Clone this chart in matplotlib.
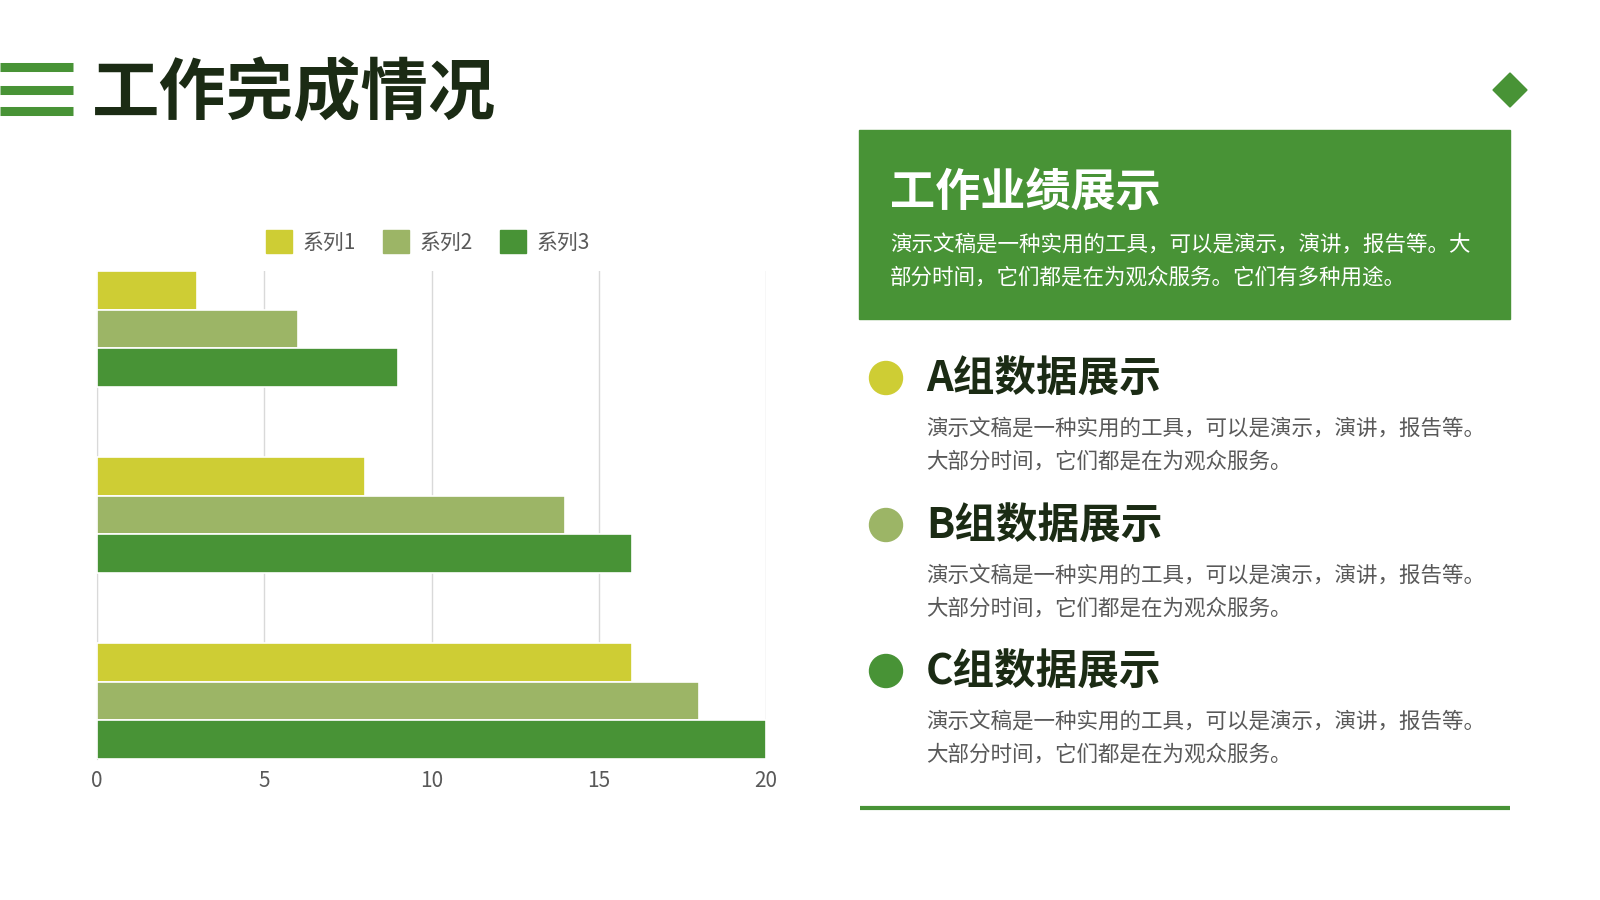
import matplotlib
matplotlib.use("Agg")
import matplotlib.pyplot as plt
import matplotlib.patches as mpatches
from matplotlib.lines import Line2D

plt.rcParams['font.family'] = ['Noto Sans CJK SC', 'DejaVu Sans']

# chart data
categories = ["类别1", "类别2", "类别3"]
series_names = ["系列1", "系列2", "系列3"]
series1 = [3, 8, 16]
series2 = [6, 14, 18]
series3 = [9, 16, 20]
x_ticks = [0, 5, 10, 15, 20]

# text content
page_title = "工作完成情况"
box_title = "工作业绩展示"
box_body = ["演示文稿是一种实用的工具，可以是演示，演讲，报告等。大",
            "部分时间，它们都是在为观众服务。它们有多种用途。"]
group_titles = ["A组数据展示", "B组数据展示", "C组数据展示"]
group_body = ["演示文稿是一种实用的工具，可以是演示，演讲，报告等。",
              "大部分时间，它们都是在为观众服务。"]

colors = ['#CECD34', '#9CB566', '#489336']
dark = '#1B2B14'
grey = '#595959'

W, H = 1600, 900
fig = plt.figure(figsize=(16, 9), dpi=100)


def fx(px):
    return px / W


def fy(py):
    return 1 - py / H


# header: three bars + title
for yy in [67, 90, 111]:
    fig.add_artist(Line2D([0, fx(73)], [fy(yy), fy(yy)], color='#489336', lw=6.5,
                          solid_capstyle='butt'))
fig.text(fx(92), fy(95), page_title, fontsize=48.5, fontweight='heavy', color=dark,
         ha='left', va='center')

# diamond at top right
diamond = mpatches.Polygon([(fx(1493), fy(90)), (fx(1510), fy(73)), (fx(1527), fy(90)),
                            (fx(1510), fy(107))], closed=True, color='#489336',
                           transform=fig.transFigure)
fig.add_artist(diamond)

# green box
fig.add_artist(mpatches.Rectangle((fx(859), fy(319)), fx(1510 - 859), (319 - 130) / H,
                                  color='#489336', transform=fig.transFigure))
fig.text(fx(890), fy(193), box_title, fontsize=32.5, fontweight='bold', color='white',
         ha='left', va='center')
for i, line in enumerate(box_body):
    fig.text(fx(890), fy(245 + 33 * i), line, fontsize=15.5, color='white',
             ha='left', va='center')

# A/B/C blocks
block_y = [380, 527, 673]
for k, (title, yy) in enumerate(zip(group_titles, block_y)):
    fig.add_artist(mpatches.Ellipse((fx(886), fy(yy - 2)), 33 / W, 33 / H, color=colors[k],
                                    transform=fig.transFigure))
    fig.text(fx(926), fy(yy), title, fontsize=30, fontweight='bold', color=dark,
             ha='left', va='center')
    for i, line in enumerate(group_body):
        fig.text(fx(926), fy(yy + 49 + 33 * i), line, fontsize=15.5, color=grey,
                 ha='left', va='center')

fig.add_artist(Line2D([fx(860), fx(1510)], [fy(808), fy(808)], color='#489336', lw=3,
                      solid_capstyle='butt'))

# bar chart
ax = fig.add_axes([fx(97), fy(759), fx(766 - 97), (759 - 271) / H])
slot = 0.2077
series = [series1, series2, series3]
pos = list(range(len(categories)))
for s, (vals, c, name) in enumerate(zip(series, colors, series_names)):
    ys = [p + (s - 1) * slot for p in pos]
    ax.barh(ys, vals, height=slot, color=c, edgecolor='white', linewidth=1.2, label=name,
            zorder=3)

ax.set_xlim(0, 20)
ax.set_ylim(2 + 1.5 * slot, -1.5 * slot)
ax.set_xticks(x_ticks)
ax.set_yticks([])
ax.grid(axis='x', color='#D9D9D9', lw=1, zorder=0)
for sp in ['top', 'right', 'bottom']:
    ax.spines[sp].set_visible(False)
ax.spines['left'].set_color('#D9D9D9')
ax.tick_params(axis='x', length=0, labelsize=15, labelcolor=grey, pad=8)

handles = [mpatches.Patch(color=c, label=n) for c, n in zip(colors, series_names)]
fig.legend(handles=handles, loc='center', bbox_to_anchor=(fx(428), fy(242)), ncol=3,
           frameon=False, fontsize=15, labelcolor=grey, handlelength=1.25,
           handleheight=1.25, handletextpad=0.5, columnspacing=1.3)

fig.savefig("out.png", dpi=100)
